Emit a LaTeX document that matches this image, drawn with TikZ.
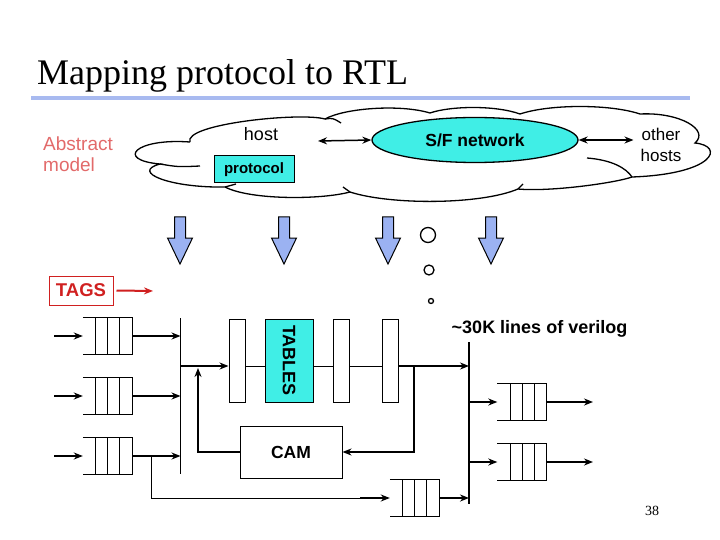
\documentclass[tikz,border=0pt]{standalone}
\usepackage{fontspec}
\setmainfont{Liberation Serif}
\setsansfont{Liberation Sans}
\usetikzlibrary{arrows.meta,shapes.geometric,positioning}
\definecolor{boxCyan}{RGB}{64,238,230}
\definecolor{arrowBlue}{RGB}{155,178,242}
\definecolor{ruleBlue}{RGB}{168,186,240}
\definecolor{salmon}{RGB}{226,106,106}
\definecolor{tagRed}{RGB}{208,32,32}
\tikzset{>={Stealth[length=9pt,width=7pt]}}
\tikzset{
  fifo/.style={minimum width=49pt,minimum height=36pt,inner sep=0pt},
  stage/.style={draw,line width=1pt,minimum width=16pt,minimum height=83pt,inner sep=0pt},
  flow/.style={line width=2.4pt},
  bus/.style={line width=1.4pt},
  lbl/.style={font=\sffamily\fontsize{18}{21}\selectfont}
}
\newcommand\fifocells[1]{% open-left queue, four cells
  \draw[line width=1pt] (#1.north west) -- (#1.north east) -- (#1.south east) -- (#1.south west);
  \foreach \dx in {13,25,37}
    \draw[line width=1pt] ([xshift=\dx pt]#1.north west) -- ([xshift=\dx pt]#1.south west);}

\begin{document}
\begin{tikzpicture}[x=1pt,y=-1pt]
\useasboundingbox (0,0) rectangle (720,540);
\node[anchor=base west,inner sep=0pt,font=\fontsize{36}{40}\selectfont] (title) at (37,85) {Mapping protocol to RTL};
\draw[ruleBlue,line width=4pt] (31,98) -- (690,98);% rule under title

% abstract model cloud
\draw[line width=1.3pt] (190,142)
  .. controls (183,124) and (300,112) .. (325,119)
  .. controls (345,108) and (400,104) .. (430,113)
  .. controls (450,106) and (495,105) .. (520,114)
  .. controls (550,104) and (610,104) .. (640,114)
  .. controls (680,112) and (710,130) .. (695,143)
  .. controls (725,146) and (715,174) .. (632,177)
  .. controls (615,183) and (550,192) .. (518,189)
  .. controls (480,205) and (390,205) .. (350,192)
  .. controls (320,200) and (250,200) .. (225,187)
  .. controls (170,188) and (130,172) .. (160,164)
  .. controls (115,160) and (135,138) .. (190,142);
\draw[line width=1.3pt] (160,164) .. controls (178,167) .. (200,166)
  (225,187) .. controls (230,185) .. (236,184)
  (325,119) .. controls (333,118) .. (341,123)
  (350,192) -- (343,187)
  (518,189) -- (523,184)
  (587,158) .. controls (612,160) and (626,168) .. (632,177);

\node[lbl,anchor=north west,align=left,text=salmon,inner sep=0pt,font=\sffamily\fontsize{19}{21}\selectfont] (abs) at (43,137) {Abstract\\model};
\node[lbl,anchor=base] (host) at (261,141) {host};
\node[draw,fill=boxCyan,line width=1pt,minimum width=80pt,minimum height=27pt,inner sep=0pt,font=\sffamily\bfseries\fontsize{15}{18}\selectfont] (proto) at (254,169.5) {protocol};
\node[ellipse,draw,fill=boxCyan,line width=1.3pt,minimum width=206pt,minimum height=45pt,inner sep=0pt,font=\sffamily\bfseries\fontsize{17.5}{20}\selectfont] (sf) at (475,140) {S/F network};
\node[lbl,anchor=north,align=center,inner sep=0pt,font=\sffamily\fontsize{17}{21}\selectfont] (other) at (661,127.6) {other\\hosts};
\coordinate (hostR) at (318,141);
\draw[<->,line width=1.5pt] (hostR) -- (sf.west);
\draw[<->,line width=1.5pt] (sf.east) -- ([xshift=-7pt]other.west |- sf.east);

% refinement arrows
\foreach \x in {180,284,388,491}
  \draw[fill=arrowBlue,line width=1pt] ({\x-5.5},217) -- ({\x+5.5},217) -- ({\x+5.5},238) -- ({\x+12.5},238)
    -- (\x,264) -- ({\x-12.5},238) -- ({\x-5.5},238) -- cycle;
\draw[line width=1.3pt] (428,235) circle (7.5pt) (429,270) circle (5pt) (431,301) circle (2.5pt);

\node[draw=tagRed,line width=1pt,text=tagRed,minimum width=64pt,minimum height=29pt,inner sep=0pt,font=\sffamily\bfseries\fontsize{18.5}{20}\selectfont] (tags) at (81,290.5) {TAGS};
\coordinate (tagsTip) at (153,291);
\draw[->,tagRed,line width=2pt] ([xshift=3pt]tags.east) -- (tagsTip);

\node[anchor=base,font=\sffamily\bfseries\fontsize{18}{21}\selectfont] (loc) at (539.5,333) {\textasciitilde 30K lines of verilog};

% input queues and bus
\coordinate (busL) at (180.5,318);
\coordinate (busLend) at (180.5,474);
\draw[bus] (busL) -- (busLend);
\foreach \i/\y in {1/336,2/396,3/456} {
  \node[fifo] (qin\i) at (107.5,\y) {};
  \fifocells{qin\i}
  \coordinate (src\i) at (54,\y);
  \draw[flow,->] (src\i) -- (qin\i.west);
  \draw[flow,->] (qin\i.east) -- (qin\i.east -| busL);
}

% pipeline
\coordinate (pipe) at (0,366);
\node[stage] (st1) at (237,360.5) {};
\node[stage,fill=boxCyan,minimum width=48pt,right=19pt of st1,
  label={[rotate=-90,font=\sffamily\bfseries\fontsize{18}{21}\selectfont]center:TABLES}] (tbl) {};
\node[stage,right=19pt of tbl] (st3) {};
\node[stage,right=32pt of st3] (st4) {};
\draw[line width=1pt] (st1.east |- pipe) -- (tbl.west |- pipe) (tbl.east |- pipe) -- (st3.west |- pipe)
  (st3.east |- pipe) -- (st4.west |- pipe);
\draw[flow,->] (busL |- pipe) -- (st1.west |- pipe);

\coordinate (busR) at (469,342);
\coordinate (busRend) at (469,504);
\draw[bus] (busR) -- (busRend);
\draw[flow,->] (st4.east |- pipe) -- (busR |- pipe);

\node[draw,line width=1pt,minimum width=102pt,minimum height=52pt,inner sep=0pt,font=\sffamily\bfseries\fontsize{17.5}{20}\selectfont] (cam) at (291,452) {CAM};
\coordinate (fork) at (414,366);
\draw[flow,->] (fork) |- (cam.east);
\coordinate (camUp) at (198,368);
\draw[flow,->] (cam.west) -| (camUp);

% bypass queue
\node[fifo] (qbot) at (414.5,498) {};
\fifocells{qbot}
\coordinate (tap) at (151,456);
\coordinate (bend) at (360,498);
\draw[line width=1pt] (tap) |- (bend);
\draw[flow,->] (bend) -- (qbot.west);
\draw[flow,->] (qbot.east) -- (qbot.east -| busR);

% output queues
\foreach \i/\y in {1/402,2/462} {
  \node[fifo] (qout\i) at (522,\y) {};
  \fifocells{qout\i}
  \coordinate (dst\i) at (593,\y);
  \draw[flow,->] (qout\i.west -| busR) -- (qout\i.west);
  \draw[flow,->] (qout\i.east) -- (dst\i);
}

\node[anchor=base,font=\fontsize{14}{16}\selectfont] (page) at (652,515) {38};
\end{tikzpicture}
\end{document}
